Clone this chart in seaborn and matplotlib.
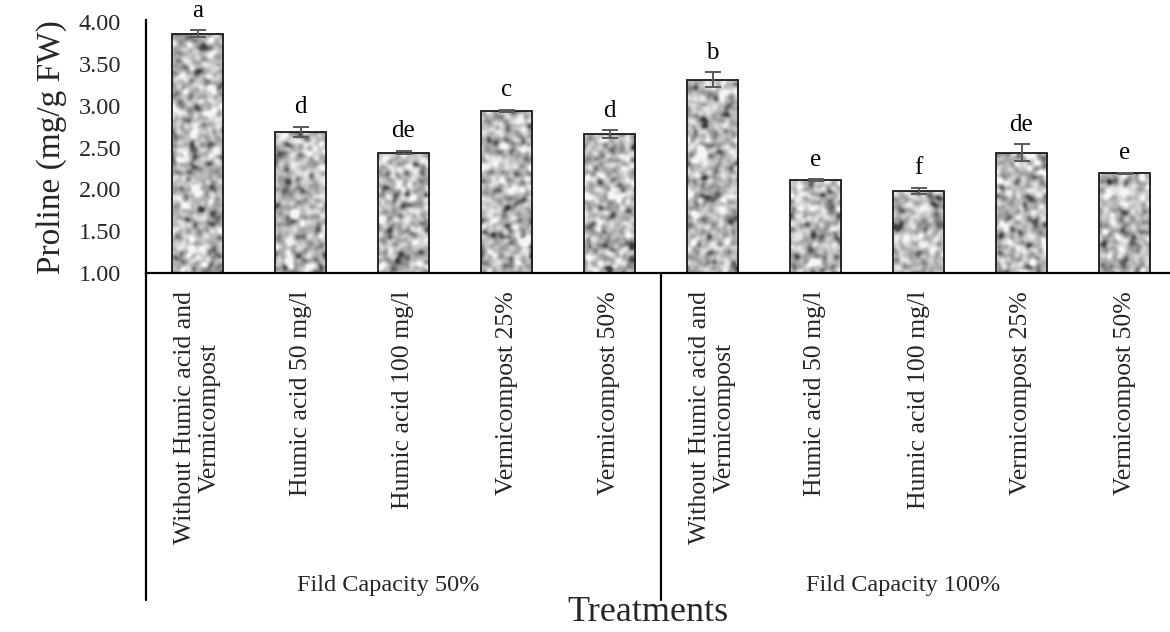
import numpy as np
import pandas as pd
import matplotlib
matplotlib.use("Agg")
import matplotlib.pyplot as plt
import seaborn as sns

# ---- data ----
groups = ["Fild Capacity 50%", "Fild Capacity 100%"]
treatments = ["Without Humic acid and\nVermicompost", "Humic acid 50 mg/l",
              "Humic acid 100 mg/l", "Vermicompost 25%", "Vermicompost 50%"]
values_fc50 = [3.86, 2.69, 2.44, 2.94, 2.66]
values_fc100 = [3.31, 2.11, 1.98, 2.44, 2.19]
errors_fc50 = [0.04, 0.06, 0.02, 0.01, 0.05]
errors_fc100 = [0.09, 0.01, 0.04, 0.10, 0.01]
letters_fc50 = ["a", "d", "de", "c", "d"]
letters_fc100 = ["b", "e", "f", "de", "e"]
y_ticks = [1.00, 1.50, 2.00, 2.50, 3.00, 3.50, 4.00]

sns.set_theme(style="white")
plt.rcParams["font.family"] = ["Liberation Serif", "DejaVu Serif"]

keys = [f"{g}|{t}" for g in groups for t in treatments]
df = pd.DataFrame({
    "key": keys,
    "value": values_fc50 + values_fc100,
    "err": errors_fc50 + errors_fc100,
    "letter": letters_fc50 + letters_fc100,
})

W, H, DPI = 11.7, 6.32, 100
fig = plt.figure(figsize=(W, H), dpi=DPI)
ax = fig.add_axes([146 / 1170, (632 - 273) / 632, 1030 / 1170, 251 / 632])

sns.barplot(data=df, x="key", y="value", order=keys, color="#aaaaaa",
            width=0.5, edgecolor="#1a1a1a", linewidth=1.3, ax=ax)

ax.set_ylim(1.0, 4.0)
ax.set_xlim(-0.5, len(keys) - 0.5)
ymin = ax.get_ylim()[0]

# granite-like texture clipped to each bar
rng = np.random.default_rng(11)
def texture(h, w):
    n = rng.random((h, w))
    fy = np.fft.fftfreq(h)[:, None]
    fx = np.fft.fftfreq(w)[None, :]
    g = np.exp(-(fx ** 2 + fy ** 2) * (2 * np.pi * 2.3) ** 2 / 2)
    s = np.real(np.fft.ifft2(np.fft.fft2(n) * g))
    s = (s - s.mean()) / s.std()
    v = 0.72 + 0.12 * s - 0.07 * np.clip(-s - 1.0, 0, None)
    return np.clip(v, 0.25, 0.96)

px_per_x = ax.get_position().width * W * DPI / (len(keys))
px_per_y = ax.get_position().height * H * DPI / 3.0
for p in ax.patches:
    x0, w = p.get_x(), p.get_width()
    y0 = max(p.get_y(), ymin)
    y1 = p.get_y() + p.get_height()
    hpx = max(int((y1 - y0) * px_per_y), 4)
    wpx = max(int(w * px_per_x), 4)
    img = texture(hpx, wpx)
    im = ax.imshow(img, cmap="gray", vmin=0, vmax=1, extent=(x0, x0 + w, y0, y1),
                   aspect="auto", interpolation="bilinear", zorder=p.get_zorder() + 0.1)
    im.set_clip_path(p)
    p.set_facecolor("none")
    p.set_zorder(p.get_zorder() + 0.2)

ax.set_ylim(1.0, 4.0)
ax.set_xlim(-0.5, len(keys) - 0.5)

xs = [p.get_x() + p.get_width() / 2 for p in ax.patches]
ax.errorbar(xs, df["value"], yerr=df["err"], fmt="none", ecolor="#5a5a5a",
            elinewidth=1.4, capsize=6, capthick=1.4, zorder=5)
for x, v, e, l in zip(xs, df["value"], df["err"], df["letter"]):
    ax.text(x, v + e + 0.16, l, ha="center", va="baseline", fontsize=18,
            color="black", clip_on=False)

ax.set_yticks(y_ticks)
ax.set_yticklabels([f"{t:.2f}" for t in y_ticks], fontsize=17.5)
ax.set_xticks(range(len(keys)))
ax.set_xticklabels(treatments * 2, rotation=90, fontsize=18.5, ha="center", va="top",
                   multialignment="center")
ax.tick_params(axis="both", length=0)
ax.tick_params(axis="y", pad=18)
ax.tick_params(axis="x", pad=13)

ax.set_ylabel("Proline (mg/g FW)", fontsize=24, labelpad=8)
ax.set_xlabel("")
for s in ["top", "right"]:
    ax.spines[s].set_visible(False)
for s in ["left", "bottom"]:
    ax.spines[s].set_color("black")
    ax.spines[s].set_linewidth(1.6)
ax.spines["left"].set_bounds(1.0, 4.02)

# group separators and labels
tr = ax.get_xaxis_transform()
depth = (273 - 600) / 251
n = len(treatments)
for b in [-0.5, n - 0.5, 2 * n - 0.5]:
    ax.plot([b, b], [0, depth], transform=tr, color="black", lw=1.6, clip_on=False)
for i, g in enumerate(groups):
    ax.text(i * n + (n - 1) / 2 - 0.15, (273 - 585) / 251, g, transform=tr,
            ha="center", va="center", fontsize=17.5)

fig.text(648 / 1170, 1 - 621 / 632, "Treatments", ha="center", va="baseline", fontsize=26)

fig.savefig("out.png", dpi=DPI)
